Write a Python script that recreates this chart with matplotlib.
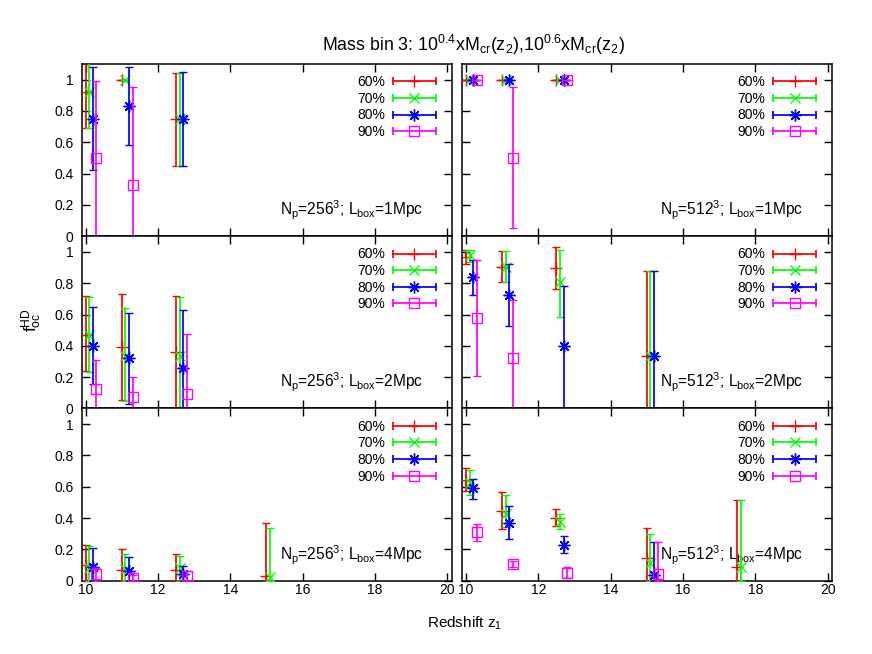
import matplotlib
matplotlib.use('Agg')
import matplotlib.pyplot as plt
from matplotlib.legend_handler import HandlerBase
from matplotlib.lines import Line2D
import numpy as np

plt.rcParams['font.family'] = ['Liberation Sans', 'DejaVu Sans']
plt.rcParams['mathtext.fontset'] = 'custom'
plt.rcParams['mathtext.rm'] = 'Liberation Sans'
plt.rcParams['mathtext.it'] = 'Liberation Sans:italic'
plt.rcParams['mathtext.default'] = 'regular'

nan = np.nan

# ---------------- data ----------------
series_labels = ['60%', '70%', '80%', '90%']
series_colors = ['#ff0000', '#00ff00', '#0000ff', '#ff00ff']
redshift_base = [10.0, 11.0, 12.5, 15.0, 17.5]
z_shift = [0.0, 0.1, 0.2, 0.3]

panel_texts = [
    r'N$_{p}$=256$^{3}$; L$_{box}$=1Mpc', r'N$_{p}$=512$^{3}$; L$_{box}$=1Mpc',
    r'N$_{p}$=256$^{3}$; L$_{box}$=2Mpc', r'N$_{p}$=512$^{3}$; L$_{box}$=2Mpc',
    r'N$_{p}$=256$^{3}$; L$_{box}$=4Mpc', r'N$_{p}$=512$^{3}$; L$_{box}$=4Mpc',
]

# rows: 60%, 70%, 80%, 90%; columns: redshift groups
n256_L1_val = [[0.92, 1.00, 0.75, nan, nan],
               [0.92, 1.00, 0.75, nan, nan],
               [0.75, 0.83, 0.75, nan, nan],
               [0.50, 0.33, nan, nan, nan]]
n256_L1_lo = [[0.69, 1.00, 0.45, nan, nan],
              [0.69, 1.00, 0.45, nan, nan],
              [0.42, 0.58, 0.45, nan, nan],
              [0.01, 0.00, nan, nan, nan]]
n256_L1_hi = [[1.15, 1.00, 1.04, nan, nan],
              [1.15, 1.00, 1.04, nan, nan],
              [1.08, 1.08, 1.05, nan, nan],
              [0.99, 0.95, nan, nan, nan]]

n512_L1_val = [[1.00, 1.00, 1.00, nan, nan],
               [1.00, 1.00, 1.00, nan, nan],
               [1.00, 1.00, 1.00, nan, nan],
               [1.00, 0.50, 1.00, nan, nan]]
n512_L1_lo = [[1.00, 1.00, 1.00, nan, nan],
              [1.00, 1.00, 1.00, nan, nan],
              [1.00, 1.00, 1.00, nan, nan],
              [1.00, 0.05, 1.00, nan, nan]]
n512_L1_hi = [[1.00, 1.00, 1.00, nan, nan],
              [1.00, 1.00, 1.00, nan, nan],
              [1.00, 1.00, 1.00, nan, nan],
              [1.00, 0.95, 1.00, nan, nan]]

n256_L2_val = [[0.47, 0.39, 0.36, nan, nan],
               [0.47, 0.335, 0.335, nan, nan],
               [0.40, 0.325, 0.26, nan, nan],
               [0.125, 0.07, 0.095, nan, nan]]
n256_L2_lo = [[0.24, 0.055, 0.0, nan, nan],
              [0.23, 0.047, 0.0, nan, nan],
              [0.155, 0.03, 0.0, nan, nan],
              [0.0, 0.0, 0.0, nan, nan]]
n256_L2_hi = [[0.72, 0.73, 0.72, nan, nan],
              [0.71, 0.64, 0.71, nan, nan],
              [0.65, 0.61, 0.63, nan, nan],
              [0.31, 0.20, 0.475, nan, nan]]

n512_L2_val = [[0.97, 0.905, 0.90, 0.333, nan],
               [0.98, 0.905, 0.805, 0.333, nan],
               [0.84, 0.725, 0.40, 0.333, nan],
               [0.58, 0.32, nan, nan, nan]]
n512_L2_lo = [[0.925, 0.805, 0.76, 0.0, nan],
              [0.935, 0.805, 0.585, 0.0, nan],
              [0.725, 0.525, 0.0, 0.0, nan],
              [0.21, 0.0, nan, nan, nan]]
n512_L2_hi = [[1.01, 1.005, 1.03, 0.875, nan],
              [1.01, 1.005, 1.01, 0.875, nan],
              [0.95, 0.925, 0.785, 0.875, nan],
              [0.945, 0.69, nan, nan, nan]]

n256_L4_val = [[0.10, 0.07, 0.07, 0.03, nan],
               [0.08, 0.075, 0.08, 0.025, nan],
               [0.09, 0.065, 0.045, nan, nan],
               [0.04, 0.02, 0.03, nan, nan]]
n256_L4_lo = [[0.0, 0.0, 0.0, 0.0, nan],
              [0.0, 0.0, 0.0, 0.0, nan],
              [0.0, 0.0, 0.0, nan, nan],
              [0.0, 0.0, 0.0, nan, nan]]
n256_L4_hi = [[0.23, 0.20, 0.17, 0.37, nan],
              [0.22, 0.17, 0.16, 0.335, nan],
              [0.21, 0.15, 0.095, nan, nan],
              [0.08, 0.035, 0.06, nan, nan]]

n512_L4_val = [[0.645, 0.445, 0.40, 0.145, 0.085],
               [0.625, 0.425, 0.375, 0.11, 0.09],
               [0.59, 0.37, 0.23, 0.035, nan],
               [0.31, 0.105, 0.05, 0.04, nan]]
n512_L4_lo = [[0.575, 0.33, 0.35, 0.0, 0.0],
              [0.55, 0.345, 0.33, 0.0, 0.0],
              [0.52, 0.265, 0.18, 0.0, nan],
              [0.255, 0.085, 0.02, 0.0, nan]]
n512_L4_hi = [[0.72, 0.565, 0.46, 0.335, 0.515],
              [0.71, 0.545, 0.425, 0.30, 0.515],
              [0.65, 0.48, 0.285, 0.245, nan],
              [0.36, 0.125, 0.09, 0.25, nan]]

panels = [
    (n256_L1_val, n256_L1_lo, n256_L1_hi),
    (n512_L1_val, n512_L1_lo, n512_L1_hi),
    (n256_L2_val, n256_L2_lo, n256_L2_hi),
    (n512_L2_val, n512_L2_lo, n512_L2_hi),
    (n256_L4_val, n256_L4_lo, n256_L4_hi),
    (n512_L4_val, n512_L4_lo, n512_L4_hi),
]

# ---------------- style ----------------
asterisk = (8, 2, 0)
markers = ['+', 'x', asterisk, 's']
msizes = [8, 7.5, 8.5, 7.5]
LW = 1.25
MEW = 1.0
CAP = 2.6


class ErrLegendHandler(HandlerBase):
    def create_artists(self, legend, orig_handle, xdescent, ydescent,
                       width, height, fontsize, trans):
        y = (height - ydescent) / 2.0
        x0, x1 = -xdescent, width - xdescent
        color = orig_handle.get_color()
        line = Line2D([x0, x1], [y, y], color=color, lw=LW)
        caps = Line2D([x0, x1], [y, y], color=color, linestyle='none',
                      marker='|', markersize=6, markeredgewidth=LW)
        mk = Line2D([(x0 + x1) / 2.0], [y], color=color, linestyle='none',
                    marker=orig_handle.get_marker(),
                    markersize=orig_handle.get_markersize(),
                    markeredgewidth=orig_handle.get_markeredgewidth(),
                    markerfacecolor='none', markeredgecolor=color)
        arts = [line, caps, mk]
        for a in arts:
            a.set_transform(trans)
        return arts


fig = plt.figure(figsize=(8.72, 6.54), dpi=100)

left_x = [0.0940, 0.5302]
ax_w = 0.4240
bottom0 = 0.1121
ax_h = 0.26335

for idx, (vals, los, his) in enumerate(panels):
    row, col = divmod(idx, 2)
    b = bottom0 + (2 - row) * ax_h
    ax = fig.add_axes([left_x[col], b, ax_w, ax_h])
    handles = []
    for s in range(4):
        y = np.array(vals[s], dtype=float)
        lo = np.array(los[s], dtype=float)
        hi = np.array(his[s], dtype=float)
        x = np.array(redshift_base) + z_shift[s]
        m = np.isfinite(y)
        ax.errorbar(x[m], y[m], yerr=np.vstack([y[m] - lo[m], hi[m] - y[m]]),
                    linestyle='none', marker=markers[s], ms=msizes[s],
                    mew=MEW, mfc='none', mec=series_colors[s],
                    color=series_colors[s], ecolor=series_colors[s],
                    elinewidth=LW, capsize=CAP, capthick=LW, zorder=3 + s)
        handles.append(Line2D([], [], color=series_colors[s], marker=markers[s],
                              ms=msizes[s], mew=MEW))
    ax.set_xlim(9.9, 20.12)
    ax.set_ylim(0, 1.1)
    ax.set_xticks([10, 12, 14, 16, 18, 20])
    ax.set_yticks([0, 0.2, 0.4, 0.6, 0.8, 1.0])
    ax.set_yticklabels(['0', '0.2', '0.4', '0.6', '0.8', '1'])
    ax.tick_params(direction='in', length=6, width=1.0, top=True, right=True,
                   labelsize=10, color='black')
    ax.tick_params(axis='y', pad=6)
    ax.tick_params(axis='x', pad=1.5)
    if col == 1:
        ax.tick_params(labelleft=False)
    if row != 2:
        ax.tick_params(labelbottom=False)
    for sp in ax.spines.values():
        sp.set_linewidth(1.1)
    ax.text(0.922, 0.12, panel_texts[idx], transform=ax.transAxes,
            ha='right', va='baseline', fontsize=11.2, zorder=1)
    leg = ax.legend(handles, series_labels, loc='upper right',
                    bbox_to_anchor=(0.957, 0.935), borderaxespad=0,
                    borderpad=0, frameon=False, markerfirst=False,
                    fontsize=10, handlelength=3.1, handletextpad=0.55,
                    labelspacing=0.19,
                    handler_map={Line2D: ErrLegendHandler()})
    leg.set_zorder(10)

fig.text(0.5425, 0.931,
         r'Mass bin 3: 10$^{0.4}$xM$_{cr}$(z$_{2}$),10$^{0.6}$xM$_{cr}$(z$_{2}$)',
         ha='center', va='center', fontsize=12.8)
fig.text(0.533, 0.047, r'Redshift z$_{1}$', ha='center', va='center',
         fontsize=11)
fig.text(0.036, 0.511, r'f$_{oc}^{HD}$', ha='center', va='center',
         rotation=90, fontsize=12.5)

fig.savefig('out.png', dpi=100)
